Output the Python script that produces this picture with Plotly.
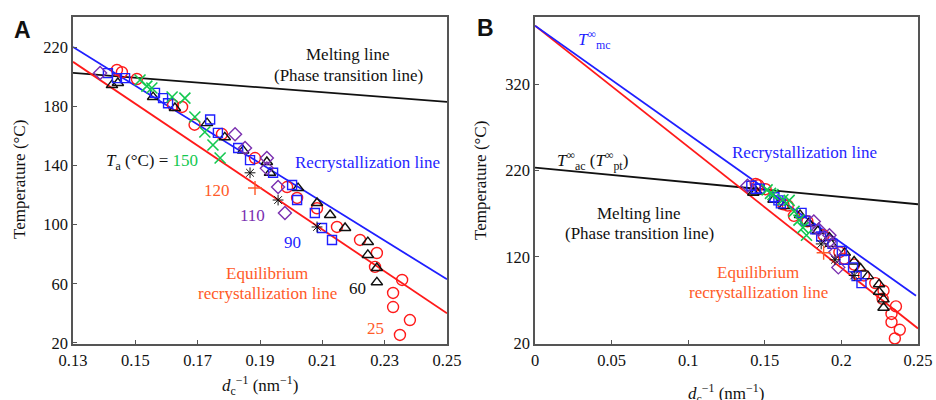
import plotly.graph_objects as go

W, H = 936, 400

# ---------------- data ----------------
# Ta = 25 C (red circles)
x25 = [0.1441, 0.1457, 0.1505, 0.1621, 0.1650, 0.1690, 0.1778, 0.1884, 0.1987, 0.2019,
       0.2083, 0.2147, 0.2221, 0.2275, 0.2269, 0.2356, 0.2327, 0.2327, 0.2381, 0.2349]
y25 = [204.5, 203.0, 198.4, 180.8, 179.5, 167.5, 161.2, 145.0, 125.4, 118.0,
       111.0, 98.4, 89.6, 80.8, 71.4, 62.6, 53.8, 44.3, 35.5, 25.4]
# Ta = 60 C (black triangles)
x60 = [0.1425, 0.1444, 0.1557, 0.1627, 0.1730, 0.1787, 0.1846, 0.1922, 0.1932, 0.2022,
       0.2083, 0.2125, 0.2173, 0.2246, 0.2246, 0.2275, 0.2275]
y60 = [194.3, 195.7, 186.2, 178.8, 168.6, 159.0, 150.0, 142.3, 135.0, 124.7,
       114.6, 106.5, 97.7, 88.2, 79.5, 70.7, 61.0]
# Ta = 90 C (blue squares)
x90 = [0.1412, 0.1441, 0.1467, 0.1563, 0.1589, 0.1605, 0.1740, 0.1765, 0.1830, 0.1868,
       0.1942, 0.2003, 0.2019, 0.2076, 0.2099, 0.2131]
y90 = [202.4, 199.0, 199.0, 189.0, 185.5, 182.0, 171.0, 162.0, 151.8, 143.6,
       135.0, 126.8, 116.6, 107.8, 97.7, 89.6]
# Ta = 110 C (purple diamonds)
x110 = [0.1387, 0.1820, 0.1852, 0.1922, 0.1922, 0.1958, 0.1980]
y110 = [202.4, 161.0, 151.8, 145.0, 138.0, 125.4, 107.8]
# black asterisks
xast = [0.1868, 0.1958, 0.2083]
yast = [135.0, 116.6, 98.4]
# Ta = 120 C (orange plus)
x120 = [0.1884]
y120 = [124.7]
# Ta = 150 C (green crosses)
x150 = [0.1515, 0.1537, 0.1553, 0.1618, 0.1659, 0.1691, 0.1723, 0.1749, 0.1772]
y150 = [197.7, 193.6, 192.3, 186.2, 185.5, 172.7, 162.6, 153.8, 145.0]

# fitted lines (end points), panel A
lineA_x = [0.13, 0.25]
recrystA_y = [220.0, 63.0]
equilA_y = [210.0, 40.0]
meltA_y = [202.5, 183.0]
# panel B
lineB_x = [0.0, 0.25]
recrystB_x = [0.0, 0.2487]
recrystB_y = [388.0, 75.0]
equilB_y = [388.0, 37.0]
meltB_y = [223.5, 181.0]

xticksA = [0.13, 0.15, 0.17, 0.19, 0.21, 0.23, 0.25]
yticksA = [20, 60, 100, 140, 180, 220]
xticksB = [0, 0.05, 0.1, 0.15, 0.2, 0.25]
yticksB = [20, 120, 220, 320]

RED = "#ff1a1a"
BLUE = "#1f1fff"
GREEN = "#14c850"
PURPLE = "#7a2fb0"
ORANGE = "#ff5a28"
BLACK = "#111111"
FONT = "Liberation Serif, Times New Roman, Times, DejaVu Serif, serif"
TS = 17  # annotation text size

fig = go.Figure()

series = [
    (x25, y25, "circle-open", 11, RED, 1.4),
    (x60, y60, "triangle-up-open", 10, BLACK, 1.4),
    (x90, y90, "square-open", 9, BLUE, 1.4),
    (x110, y110, "diamond-open", 10, PURPLE, 1.4),
    (xast, yast, "asterisk-open", 9, BLACK, 1.0),
    (x120, y120, "cross-thin-open", 10, ORANGE, 1.4),
    (x150, y150, "x-thin-open", 11, GREEN, 1.6),
]

for xa, ya, sfx in (("x", "y", "A"), ("x2", "y2", "B")):
    if sfx == "A":
        lines = [(lineA_x, meltA_y, BLACK), (lineA_x, equilA_y, RED), (lineA_x, recrystA_y, BLUE)]
    else:
        lines = [(lineB_x, meltB_y, BLACK), (lineB_x, equilB_y, RED), (recrystB_x, recrystB_y, BLUE)]
    for lxx, lyy, c in lines:
        fig.add_trace(go.Scatter(x=lxx, y=lyy, mode="lines", line=dict(color=c, width=1.8),
                                 xaxis=xa, yaxis=ya, showlegend=False, hoverinfo="skip"))
    for sx, sy, sym, sz, c, lw in series:
        fig.add_trace(go.Scatter(x=sx, y=sy, mode="markers",
                                 marker=dict(symbol=sym, size=sz, color=c, line=dict(color=c, width=lw)),
                                 xaxis=xa, yaxis=ya, showlegend=False))

axis_common = dict(showgrid=False, zeroline=False, showline=True, linecolor="#555555", linewidth=1.6,
                   mirror=True, ticks="inside", ticklen=4, tickcolor="#555555", tickwidth=1,
                   automargin=False,
                   tickfont=dict(family=FONT, size=16.5, color="#111111"))

def px2paper(px, py):
    return px / W, 1 - py / H

fig.update_layout(
    template="none",
    width=W, height=H, margin=dict(l=0, r=0, t=0, b=0, pad=0), autosize=False,
    paper_bgcolor="white", plot_bgcolor="white",
    font=dict(family=FONT, size=TS, color=BLACK),
    xaxis=dict(domain=[73 / W, 447 / W], range=[0.13, 0.25], tickvals=xticksA,
               ticktext=[f"{v:.2f}" for v in xticksA], anchor="y", **axis_common),
    yaxis=dict(domain=[(H - 344) / H, (H - 17) / H], range=[19.3, 240.3], tickvals=yticksA,
               anchor="x", **axis_common),
    xaxis2=dict(domain=[535 / W, 918 / W], range=[0, 0.25], tickvals=xticksB,
                ticktext=["0", "0.05", "0.1", "0.15", "0.2", "0.25"], anchor="y2", **axis_common),
    yaxis2=dict(domain=[(H - 344) / H, (H - 17) / H], range=[19, 398], tickvals=yticksB,
                anchor="x2", **axis_common),
    showlegend=False,
)

def ann(text, px, py, color=BLACK, size=TS, angle=0, family=FONT, xanchor="center"):
    x, y = px2paper(px, py)
    fig.add_annotation(text=text, x=x, y=y, xref="paper", yref="paper", showarrow=False,
                       font=dict(family=family, size=size, color=color), textangle=angle,
                       xanchor=xanchor, yanchor="middle")

# panel letters
ann("<b>A</b>", 22, 30, size=23, family="Liberation Sans, Arial, sans-serif")
ann("<b>B</b>", 485, 28, size=23, family="Liberation Sans, Arial, sans-serif")

# axis titles
xtitle = "<i>d</i><sub>c</sub><sup>−1</sup> (nm<sup>−1</sup>)"
ann(xtitle, 260, 385)
ann(xtitle, 726, 393)
ann("Temperature (°C)", 20, 180, angle=-90)
ann("Temperature (°C)", 481, 180, angle=-90)

# panel A labels
ann("Melting line", 348, 55)
ann("(Phase transition line)", 348, 75)
ann("Recrystallization line", 367, 162, color=BLUE)
ann(f"<i>T</i><sub>a</sub> (°C) = <span style='color:{GREEN}'>150</span>", 152, 162)
ann("120", 217, 190, color=ORANGE)
ann("110", 252, 215, color=PURPLE)
ann("90", 292, 242, color=BLUE)
ann("Equilibrium", 267, 273, color=ORANGE)
ann("recrystallization line", 267, 293, color=ORANGE)
ann("60", 357, 288)
ann("25", 375, 328, color=ORANGE)

# panel B labels
ann("<i>T</i><sup>∞</sup><sub>mc</sub>", 594, 39, color=BLUE)
ann("<i>T</i><sup>∞</sup><sub>ac</sub> (<i>T</i><sup>∞</sup><sub>pt</sub>)", 592, 160)
ann("Recrystallization line", 804, 152, color=BLUE)
ann("Melting line", 639, 213)
ann("(Phase transition line)", 639, 233)
ann("Equilibrium", 758, 272, color=ORANGE)
ann("recrystallization line", 758, 292, color=ORANGE)

fig.write_html("out.html", config={"displayModeBar": False},
               post_script="document.body.style.margin='0';document.body.style.overflow='hidden';")
